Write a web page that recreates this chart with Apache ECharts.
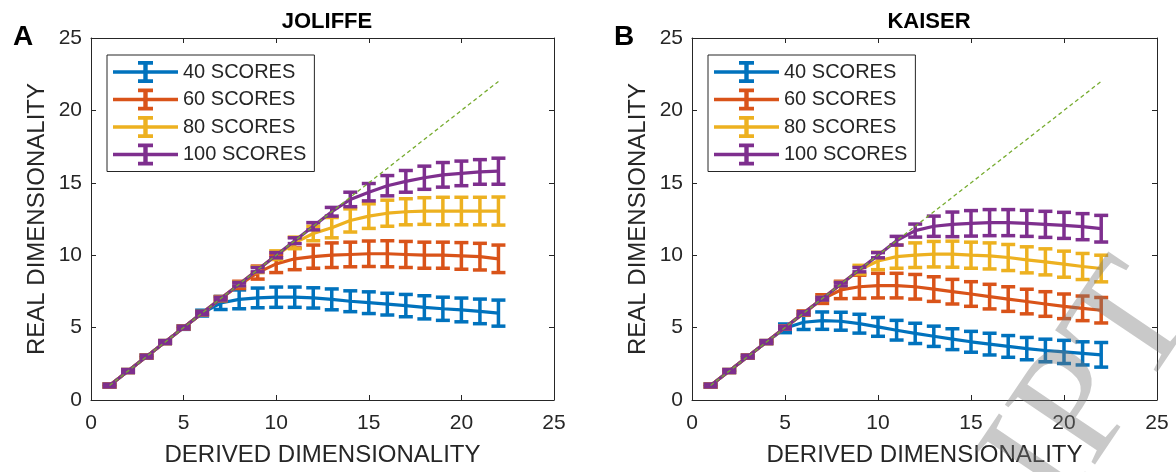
<!DOCTYPE html>
<html>
<head>
<meta charset="utf-8">
<script src="https://cdn.jsdelivr.net/npm/echarts@6/dist/echarts.min.js"></script>
<style>
html,body{margin:0;padding:0;background:#fff;}
#chart{width:1176px;height:472px;}
</style>
</head>
<body>
<div id="chart"></div>
<script>
// ---- data ----
const xVals = [1,2,3,4,5,6,7,8,9,10,11,12,13,14,15,16,17,18,19,20,21,22];
const seriesNames = ['40 SCORES','60 SCORES','80 SCORES','100 SCORES'];
const panelTitles = ['JOLIFFE','KAISER'];
const panelLetters = ['A','B'];
const watermarkText = 'RIPT';

// JOLIFFE
const jol40 = [1,2,3,4,5,6,6.7,6.95,7.05,7.1,7.1,7.05,6.95,6.82,6.72,6.62,6.52,6.4,6.3,6.22,6.12,6.0];
const jol40Err = [0.1,0.1,0.1,0.1,0.12,0.2,0.45,0.65,0.68,0.7,0.7,0.7,0.72,0.72,0.75,0.75,0.77,0.8,0.8,0.82,0.85,0.9];
const jol60 = [1,2,3,4,5,6,7,7.95,8.8,9.4,9.75,9.9,10.0,10.05,10.1,10.1,10.05,10.0,10.0,9.95,9.9,9.75];
const jol60Err = [0.1,0.1,0.1,0.1,0.1,0.12,0.15,0.25,0.45,0.6,0.75,0.8,0.85,0.85,0.88,0.9,0.9,0.9,0.9,0.92,0.92,0.95];
const jol80 = [1,2,3,4,5,6,7,8,9,10,10.85,11.5,11.9,12.4,12.7,12.9,13.0,13.05,13.05,13.05,13.05,13.05];
const jol80Err = [0.1,0.1,0.1,0.1,0.1,0.1,0.12,0.15,0.2,0.3,0.4,0.5,0.7,0.8,0.85,0.9,0.9,0.92,0.95,0.95,0.95,0.97];
const jol100 = [1,2,3,4,5,6,7,8,9,10,11,12,13,13.85,14.35,14.8,15.1,15.35,15.55,15.65,15.75,15.8];
const jol100Err = [0.1,0.1,0.1,0.1,0.1,0.1,0.1,0.12,0.15,0.18,0.2,0.25,0.3,0.5,0.6,0.7,0.75,0.8,0.85,0.85,0.85,0.9];

// KAISER
const kai40 = [1,2,3,4,4.95,5.37,5.48,5.44,5.27,5.05,4.82,4.6,4.4,4.2,4.02,3.86,3.7,3.55,3.42,3.32,3.22,3.12];
const kai40Err = [0.1,0.1,0.1,0.1,0.3,0.5,0.6,0.62,0.65,0.65,0.68,0.7,0.7,0.72,0.72,0.75,0.75,0.77,0.78,0.8,0.8,0.85];
const kai60 = [1,2,3,4,5,6,6.97,7.6,7.82,7.9,7.9,7.82,7.66,7.48,7.32,7.14,6.97,6.8,6.63,6.47,6.33,6.2];
const kai60Err = [0.1,0.1,0.1,0.1,0.1,0.15,0.3,0.6,0.8,0.85,0.85,0.85,0.85,0.85,0.85,0.85,0.85,0.85,0.85,0.85,0.85,0.88];
const kai80 = [1,2,3,4,5,6,7,8,9,9.6,9.9,10.0,10.07,10.07,10.0,9.95,9.84,9.68,9.54,9.38,9.22,9.08];
const kai80Err = [0.1,0.1,0.1,0.1,0.1,0.1,0.12,0.15,0.3,0.6,0.8,0.85,0.88,0.9,0.9,0.9,0.9,0.9,0.9,0.9,0.9,0.92];
const kai100 = [1,2,3,4,5,6,7,8,9,10,11,11.7,12.0,12.13,12.2,12.25,12.25,12.2,12.13,12.06,11.97,11.83];
const kai100Err = [0.1,0.1,0.1,0.1,0.1,0.1,0.1,0.12,0.15,0.18,0.3,0.45,0.7,0.85,0.88,0.9,0.9,0.9,0.9,0.9,0.9,0.92];

const identityLine = [[1,1],[22,22]];

const colors = ['#0072BD','#D95319','#EDB120','#7E2F8E'];
const panels = [
  {vals:[jol40,jol60,jol80,jol100], errs:[jol40Err,jol60Err,jol80Err,jol100Err]},
  {vals:[kai40,kai60,kai80,kai100], errs:[kai40Err,kai60Err,kai80Err,kai100Err]}
];

// ---- chart ----
const TXT = '#262626';
const FONT = '"Liberation Sans", Arial, sans-serif';
const grids = [
  {left:91, right:622, top:38, bottom:69},
  {left:692, right:19, top:38, bottom:70}
];

const xAxes = [], yAxes = [];
grids.forEach((g, gi) => {
  const common = {
    type:'value', min:0, max:25, interval:5, gridIndex:gi,
    axisLine:{show:true, onZero:false, lineStyle:{color:TXT, width:1}},
    axisTick:{show:true, inside:true, length:5, lineStyle:{color:TXT}},
    splitLine:{show:false}
  };
  xAxes.push(Object.assign({}, common, {
    position:'bottom',
    axisLabel:{fontSize:21, color:TXT, fontFamily:FONT, margin:13},
    name:'DERIVED DIMENSIONALITY', nameLocation:'middle', nameGap:43,
    nameTextStyle:{fontSize:24, color:TXT, fontFamily:FONT}
  }));
  xAxes.push(Object.assign({}, common, {position:'top', axisLabel:{show:false}}));
  yAxes.push(Object.assign({}, common, {
    position:'left',
    axisLabel:{fontSize:21, color:TXT, fontFamily:FONT, margin:9},
    name:'REAL DIMENSIONALITY', nameLocation:'middle', nameGap:42,
    nameTextStyle:{fontSize:24, color:TXT, fontFamily:FONT}
  }));
  yAxes.push(Object.assign({}, common, {position:'right', axisLabel:{show:false}}));
});

function errRender(color) {
  return function(params, api) {
    const x = api.value(0), y = api.value(1), e = api.value(2);
    const t = api.coord([x, y + e]);
    const b = api.coord([x, y - e]);
    const hw = 7;
    const st = {stroke:color, lineWidth:3.5, fill:null};
    return {type:'group', children:[
      {type:'line', shape:{x1:t[0], y1:t[1], x2:b[0], y2:b[1]}, style:st},
      {type:'line', shape:{x1:t[0]-hw, y1:t[1], x2:t[0]+hw, y2:t[1]}, style:st},
      {type:'line', shape:{x1:b[0]-hw, y1:b[1], x2:b[0]+hw, y2:b[1]}, style:st}
    ]};
  };
}

const series = [];
panels.forEach((p, pi) => {
  p.vals.forEach((vals, si) => {
    const c = colors[si];
    series.push({
      type:'line', name:seriesNames[si], xAxisIndex:pi*2, yAxisIndex:pi*2,
      data:xVals.map((x,i)=>[x, vals[i]]),
      showSymbol:false, symbol:'none', smooth:false,
      lineStyle:{color:c, width:3.2}, itemStyle:{color:c},
      z:2+si, animation:false
    });
    series.push({
      type:'custom', name:seriesNames[si] + ' err', xAxisIndex:pi*2, yAxisIndex:pi*2,
      data:xVals.map((x,i)=>[x, vals[i], p.errs[si][i]]),
      encode:{x:0, y:1},
      renderItem:errRender(c), itemStyle:{color:c},
      z:2+si, animation:false
    });
  });
  series.push({
    type:'line', name:'identity', xAxisIndex:pi*2, yAxisIndex:pi*2,
    data:identityLine, showSymbol:false, symbol:'none',
    lineStyle:{color:'#77AC30', width:1.3, type:[4,3]},
    z:10, animation:false, silent:true
  });
});

const legendIcon = 'path://M0,9.3H65V12.7H0Z M30.3,1H34.7V21H30.3Z M25,0H40V3.8H25Z M25,18.2H40V22H25Z';
const legends = [107, 708].map(l => ({
  left:l, top:55, orient:'vertical',
  backgroundColor:'#fff',
  borderColor:TXT, borderWidth:1, padding:[6,8,6,6],
  itemWidth:65, itemHeight:22, itemGap:5.5, itemTextGap:7,
  textStyle:{fontSize:20, color:TXT, fontFamily:FONT},
  data:seriesNames.map(n => ({name:n, icon:legendIcon})),
  selectedMode:false
}));

const titles = [
  {text:panelTitles[0], left:322, top:6, textAlign:'center', textStyle:{fontSize:22, fontWeight:'bold', color:'#000', fontFamily:FONT}},
  {text:panelTitles[1], left:924, top:6, textAlign:'center', textStyle:{fontSize:22, fontWeight:'bold', color:'#000', fontFamily:FONT}},
  {text:panelLetters[0], left:8, top:18, textStyle:{fontSize:28, fontWeight:'bold', color:'#000', fontFamily:FONT}},
  {text:panelLetters[1], left:609, top:18, textStyle:{fontSize:28, fontWeight:'bold', color:'#000', fontFamily:FONT}}
];

const chart = echarts.init(document.getElementById('chart'), null, {renderer:'canvas'});
chart.setOption({
  backgroundColor:'#fff',
  animation:false,
  title:titles,
  grid:grids.map(g => Object.assign({containLabel:false, show:false}, g)),
  xAxis:xAxes,
  yAxis:yAxes,
  legend:legends,
  graphic:[{
    type:'text', x:1032, y:628, rotation:56*Math.PI/180, z:200, silent:true,
    style:{text:watermarkText, font:'165px "Liberation Serif", serif', fill:'rgba(120,120,120,0.4)', textAlign:'left', textVerticalAlign:'bottom'}
  }],
  series:series
});
</script>
</body>
</html>
